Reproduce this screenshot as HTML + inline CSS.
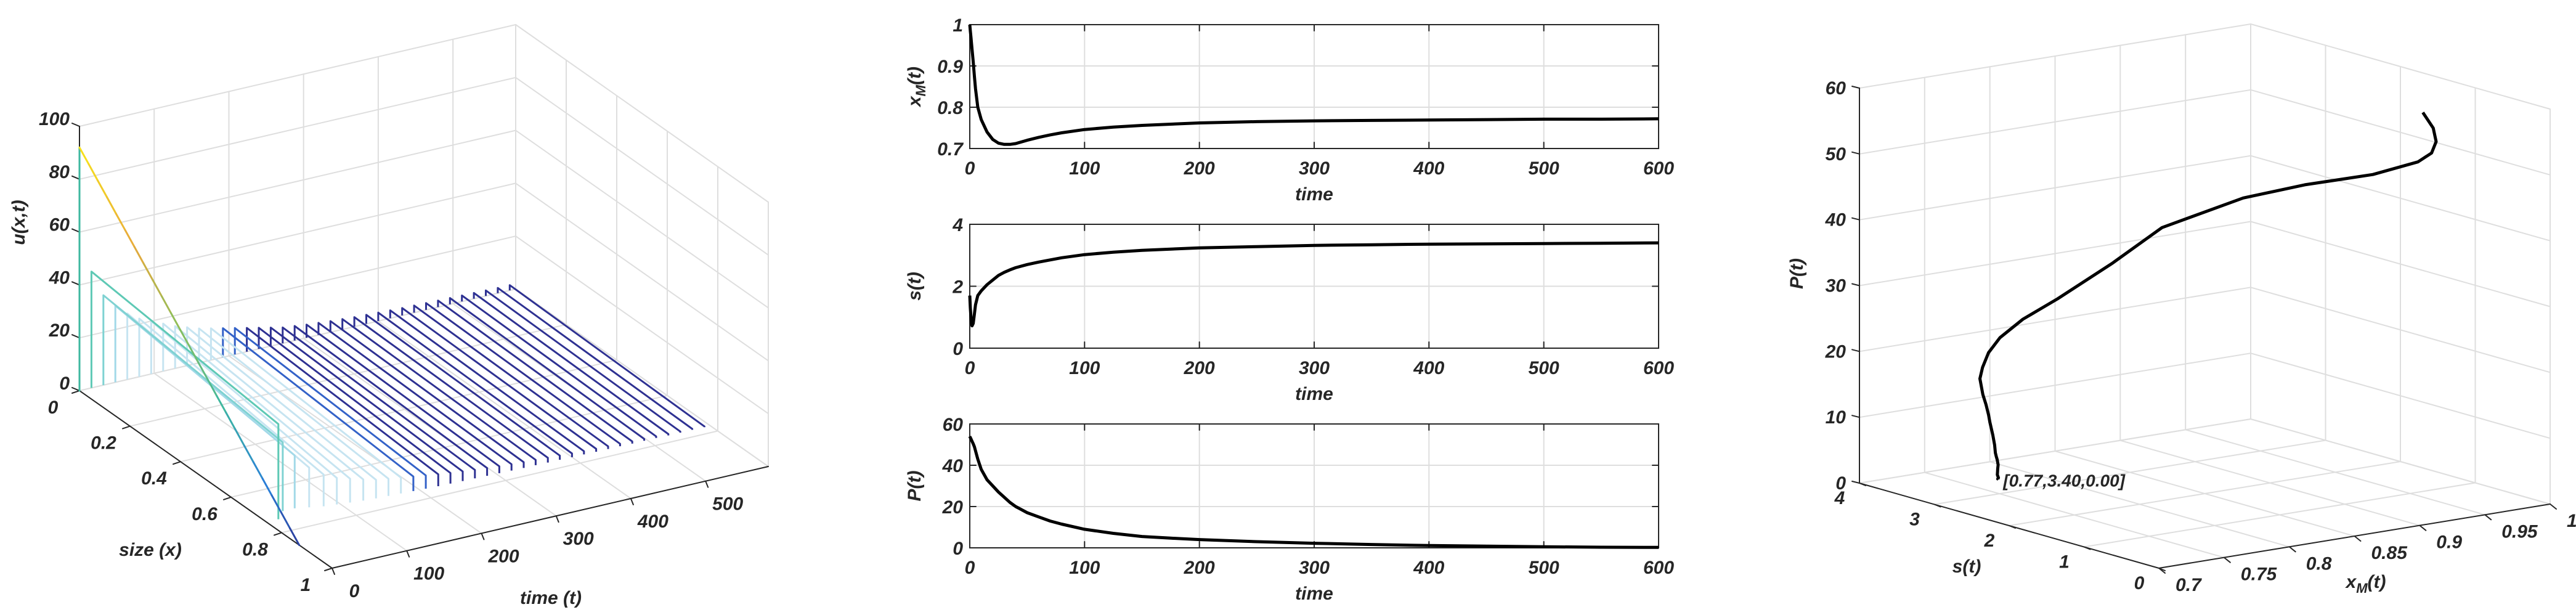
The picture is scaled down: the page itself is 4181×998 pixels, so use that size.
<!DOCTYPE html>
<html>
<head>
<meta charset="utf-8">
<style>
html,body{margin:0;padding:0;background:#fff;}
svg{display:block;}
text{font-family:"Liberation Sans",Arial,sans-serif;font-weight:bold;font-style:italic;fill:#262626;}
</style>
</head>
<body>
<svg id="chart" width="4181" height="998" viewBox="0 0 4181 998" xmlns="http://www.w3.org/2000/svg">
<rect x="0" y="0" width="4181" height="998" fill="#fff"/>
</svg>
<script>
// ---------- data ----------
// waterfall (left panel): u(x,t) profiles at fixed times
const wfTimes = [0,16,32,48,64,80,96,112,128,144,160,176,192,208,224,240,256,272,288,304,320,336,352,368,384,400,416,432,448,464,480,496,512,528,544,560,576];
const wfStart = [92,44,34,29,25,22,20,18,16,14.5,13,12,11,10,9,8,7,6,5.5,5,4.6,4.2,3.9,3.6,3.4,3.2,3.0,2.8,2.7,2.6,2.5,2.4,2.3,2.2,2.1,2.0,2.0];
const wfEnd = [0,36,26,20,15,12,10,9,8,7,6.5,6,5.5,5,4.5,4,3.6,3.2,2.9,2.6,2.4,2.2,2,1.8,1.6,1.4,1.2,1.1,1,0.9,0.8,0.7,0.6,0.5,0.4,0.35,0.3];
const wfXmax = [0.87,0.74,0.71,0.71,0.72,0.73,0.735,0.74,0.745,0.748,0.75,0.752,0.754,0.756,0.758,0.759,0.76,0.761,0.762,0.763,0.764,0.765,0.765,0.766,0.766,0.767,0.767,0.768,0.768,0.768,0.769,0.769,0.769,0.770,0.770,0.770,0.771];
const zTicks = [0,20,40,60,80,100];
const sizeTicks = [0,0.2,0.4,0.6,0.8,1];
const sizeTickLabels = ['0','0.2','0.4','0.6','0.8','1'];
const timeTicks3d = [0,100,200,300,400,500];

// time series (middle + right panels)
const tsTime = [0,0.5,1,1.5,2,3,4,5,7,10,15,20,25,30,35,40,50,60,70,80,100,125,150,175,200,250,300,350,400,450,500,550,600];
const tsXM = [1,0.985,0.97,0.955,0.94,0.91,0.875,0.845,0.8,0.77,0.74,0.722,0.713,0.71,0.71,0.712,0.72,0.727,0.733,0.738,0.746,0.752,0.756,0.759,0.762,0.765,0.767,0.768,0.769,0.770,0.771,0.771,0.772];
const tsS = [1.7,1.3,1.0,0.8,0.72,0.8,1.1,1.4,1.7,1.85,2.05,2.2,2.35,2.45,2.53,2.6,2.7,2.78,2.85,2.92,3.02,3.1,3.16,3.2,3.24,3.28,3.32,3.34,3.36,3.37,3.38,3.39,3.40];
const tsP = [54,53.4,52.8,52.2,51.6,50.4,49,47,43,38,33,30,27,24.5,22,20,17,15,13,11.5,9,7,5.5,4.7,4,3,2.2,1.6,1.1,0.8,0.5,0.3,0.2];
const timeTicks = [0,100,200,300,400,500,600];
const xmTicks2d = [0.7,0.8,0.9,1];
const sTicks2d = [0,2,4];
const pTicks2d = [0,20,40,60];
const xmTicks3d = [0.7,0.75,0.8,0.85,0.9,0.95,1];
const xmTickLabels3d = ['0.7','0.75','0.8','0.85','0.9','0.95','1'];
const sTicks3d = [0,1,2,3,4];
const pTicks3d = [0,10,20,30,40,50,60];
const endLabel = '[0.77,3.40,0.00]';

// ---------- helpers ----------
const NS='http://www.w3.org/2000/svg';
const svg=document.getElementById('chart');
function mk(tag,attrs,parent){const e=document.createElementNS(NS,tag);for(const k in attrs)e.setAttribute(k,attrs[k]);(parent||svg).appendChild(e);return e;}
function ln(p,q,stroke,w,parent){return mk('line',{x1:p[0].toFixed(1),y1:p[1].toFixed(1),x2:q[0].toFixed(1),y2:q[1].toFixed(1),stroke:stroke,'stroke-width':w,'stroke-linecap':'round'},parent);}
function tx(x,y,s,anchor,parent,rot){const a={x:x.toFixed(1),y:y.toFixed(1),'font-size':30,'text-anchor':anchor||'middle'};if(rot)a.transform='rotate(-90 '+x.toFixed(1)+' '+y.toFixed(1)+')';const e=mk('text',a,parent);e.textContent=s;return e;}
function pts(arr){return arr.map(p=>p[0].toFixed(1)+','+p[1].toFixed(1)).join(' ');}
const GRID='#dedede', AX='#262626';

// ================= LEFT PANEL =================
const gL=mk('g',{});


const TMAX=584;
function L(x,t,z){return [129+410*x+708*t/TMAX, 634+288*x-165*t/TMAX-4.29*z];}
const gLgrid=mk('g',{},gL);


timeTicks3d.concat([TMAX]).forEach(t=>{ln(L(0,t,0),L(0,t,100),GRID,2,gLgrid);ln(L(0,t,0),L(1,t,0),GRID,2,gLgrid);});
zTicks.forEach(z=>{ln(L(0,0,z),L(0,TMAX,z),GRID,2,gLgrid);ln(L(0,TMAX,z),L(1,TMAX,z),GRID,2,gLgrid);});
sizeTicks.forEach(x=>{ln(L(x,TMAX,0),L(x,TMAX,100),GRID,2,gLgrid);ln(L(x,0,0),L(x,TMAX,0),GRID,2,gLgrid);});
// axes
const zAx=ln(L(0,0,0),L(0,0,100),AX,2,gL);


const xAx=ln(L(0,0,0),L(1,0,0),AX,2,gL);


const tAx=ln(L(1,0,0),L(1,TMAX,0),AX,2,gL);


zTicks.forEach(z=>{const p=L(0,0,z);ln(p,[p[0]-12,p[1]-5],AX,2,gL);const t=tx(p[0]-16,p[1]-2,String(z),'end',gL);});
sizeTicks.forEach((x,i)=>{const p=L(x,0,0);ln(p,[p[0]-12,p[1]+4],AX,2,gL);const t=tx(p[0]-43,p[1]+37,sizeTickLabels[i],'middle',gL);});
timeTicks3d.forEach(tt=>{const p=L(1,tt,0);ln(p,[p[0]+4,p[1]+10],AX,2,gL);const t=tx(p[0]+36,p[1]+47,String(tt),'middle',gL);});
const uT=tx(40,361,'u(x,t)','middle',gL,true);


const sxT=tx(244,902,'size (x)','middle',gL);


const tT=tx(894,980,'time (t)','middle',gL);


// colours
const cmapStops=[[0,[43,58,154]],[0.15,[42,127,216]],[0.35,[63,184,160]],[0.55,[140,191,90]],[0.75,[232,169,60]],[1,[247,228,26]]];
function cmap(f){f=Math.max(0,Math.min(1,f));for(let i=1;i<cmapStops.length;i++){if(f<=cmapStops[i][0]){const a=cmapStops[i-1],b=cmapStops[i];const r=(f-a[0])/(b[0]-a[0]);const c=a[1].map((v,k)=>Math.round(v+(b[1][k]-v)*r));return 'rgb('+c.join(',')+')';}}return 'rgb(247,228,26)';}
function lineColor(i){
  if(i===1) return '#5ec9b5';
  if(i===2) return '#7fd2d2';
  if(i===3) return '#a3d9e8';
  if(i<=11) return '#c6e4f1';
  if(i<=13) return '#3462c8';
  return '#2e3192';
}
const gW=mk('g',{},gL);


for(let i=wfTimes.length-1;i>=0;i--){
  const t=wfTimes[i],u0=wfStart[i],ue=wfEnd[i],xm=wfXmax[i];
  if(i===0){
    const g0=mk('g',{},gW);
    
    
    ln(L(0,t,0),L(0,t,u0),'#3fb8a0',3,g0);
    const N=24;
    for(let k=0;k<N;k++){
      const x1=xm*k/N,x2=xm*(k+1)/N;
      const z1=u0+(ue-u0)*k/N,z2=u0+(ue-u0)*(k+1)/N;
      ln(L(x1,t,z1),L(x2,t,z2),cmap((z1+z2)/2/u0),3,g0);
    }
  } else {
    const pl=mk('polyline',{points:pts([L(0,t,0),L(0,t,u0),L(xm,t,ue),L(xm,t,0)]),fill:'none',stroke:lineColor(i),'stroke-width':3,'stroke-linejoin':'round'},gW);
    
    
  }
}

// ================= MIDDLE PANELS =================
function plot2d(name,top,ymin,ymax,yTicks,yVals,ylab,yLabName){
  const left=1574,right=2692,bottom=top+201;
  const g=mk('g',{});
  
  
  const X=t=>left+(right-left)*t/600;
  const Y=v=>bottom-(bottom-top)*(v-ymin)/(ymax-ymin);
  timeTicks.forEach(t=>{if(t>0&&t<600)ln([X(t),top],[X(t),bottom],GRID,2,g);});
  yTicks.forEach(v=>{if(v>ymin&&v<ymax)ln([left,Y(v)],[right,Y(v)],GRID,2,g);});
  const box=mk('rect',{x:left,y:top,width:right-left,height:bottom-top,fill:'none',stroke:AX,'stroke-width':2},g);
  
  
  timeTicks.forEach(t=>{ln([X(t),bottom],[X(t),bottom-10],AX,2,g);ln([X(t),top],[X(t),top+10],AX,2,g);
    const e=tx(X(t),bottom+42,String(t),'middle',g);
    
    });
  yTicks.forEach(v=>{ln([left,Y(v)],[left+10,Y(v)],AX,2,g);ln([right,Y(v)],[right-10,Y(v)],AX,2,g);
    const e=tx(1563,Y(v)+11,String(v),'end',g);
    
    });
  const c=mk('polyline',{points:pts(tsTime.map((t,i)=>[X(t),Y(yVals[i])])),fill:'none',stroke:'#000','stroke-width':5,'stroke-linejoin':'round'},g);
  
  
  const xt=tx((left+right)/2,bottom+84,'time','middle',g);
  
  
  const yt=tx(1494,(top+bottom)/2,'','middle',g,true);
  
  
  ylab(yt);
}
plot2d('xm-plot',40,0.7,1,xmTicks2d,tsXM,e=>{e.textContent='x';const s=mk('tspan',{'font-size':22,dy:8},e);s.textContent='M';const r=mk('tspan',{dy:-8},e);r.textContent='(t)';},'xm-axis-title');
plot2d('s-plot',364,0,4,sTicks2d,tsS,e=>{e.textContent='s(t)';},'s-axis-title');
plot2d('p-plot',688,0,60,pTicks2d,tsP,e=>{e.textContent='P(t)';},'p-axis-title');

// ================= RIGHT PANEL =================
const gR=mk('g',{});


function R(xm,s,p){const f=(xm-0.7)/0.3;return [3504+635*f-486*s/4, 922-104*f-138*s/4-641*p/60];}
const gRg=mk('g',{},gR);


xmTicks3d.forEach(x=>{ln(R(x,4,0),R(x,4,60),GRID,2,gRg);ln(R(x,0,0),R(x,4,0),GRID,2,gRg);});
sTicks3d.forEach(s=>{ln(R(1,s,0),R(1,s,60),GRID,2,gRg);ln(R(0.7,s,0),R(1,s,0),GRID,2,gRg);});
pTicks3d.forEach(p=>{ln(R(0.7,4,p),R(1,4,p),GRID,2,gRg);ln(R(1,4,p),R(1,0,p),GRID,2,gRg);});
const pAx=ln(R(0.7,4,0),R(0.7,4,60),AX,2,gR);


const sAx=ln(R(0.7,4,0),R(0.7,0,0),AX,2,gR);


const xmAx=ln(R(0.7,0,0),R(1,0,0),AX,2,gR);


pTicks3d.forEach(p=>{const q=R(0.7,4,p);ln(q,[q[0]-12,q[1]-3],AX,2,gR);const e=tx(q[0]-22,q[1]+10,String(p),'end',gR);});
sTicks3d.forEach(s=>{const q=R(0.7,s,0);ln(q,[q[0]+10,q[1]+4],AX,2,gR);const e=tx(q[0]-32,q[1]+34,String(s),'middle',gR);});
xmTicks3d.forEach((x,i)=>{const q=R(x,0,0);ln(q,[q[0]+10,q[1]+8],AX,2,gR);const e=tx(q[0]+27,q[1]+37,xmTickLabels3d[i],'start',gR);});
const pT=tx(2926,444,'P(t)','middle',gR,true);


const sT=tx(3192,929,'s(t)','middle',gR);


const xmT=tx(3840,954,'x','middle',gR);


const xs=mk('tspan',{'font-size':22,dy:8},xmT);xs.textContent='M';
const xr=mk('tspan',{dy:-8},xmT);xr.textContent='(t)';
const traj=mk('polyline',{points:pts(tsTime.map((t,i)=>R(tsXM[i],tsS[i],tsP[i]))),fill:'none',stroke:'#000','stroke-width':5,'stroke-linejoin':'round'},gR);


const last=tsTime.length-1;
const ep=R(tsXM[last],tsS[last],tsP[last]);
const dl=tx(ep[0]+8,ep[1]+12,endLabel,'start',gR);


dl.setAttribute('font-size','28');
</script>
</body>
</html>
